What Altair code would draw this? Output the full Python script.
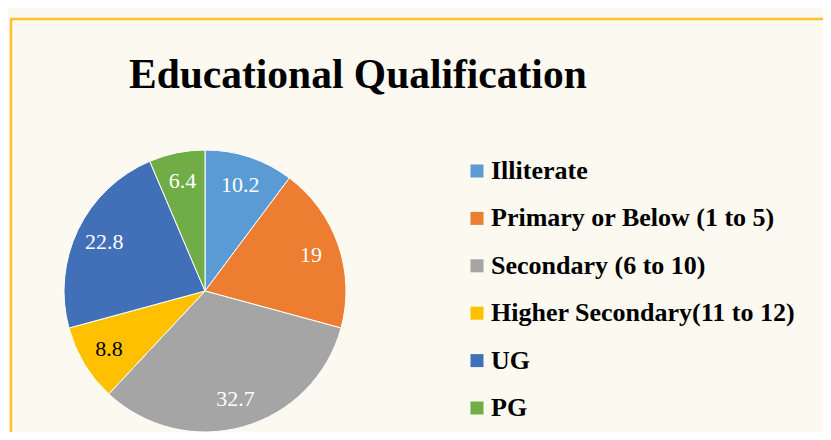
import altair as alt
import pandas as pd

categories = ["Illiterate", "Primary or Below (1 to 5)", "Secondary (6 to 10)",
              "Higher Secondary(11 to 12)", "UG", "PG"]
values = [10.2, 19, 32.7, 8.8, 22.8, 6.4]
labels = ["10.2", "19", "32.7", "8.8", "22.8", "6.4"]
colors = ["#5B9BD5", "#ED7D31", "#A5A5A5", "#FFC000", "#4270B8", "#70AD47"]
title_text = "Educational Qualification"

df = pd.DataFrame({"category": categories, "value": values, "label": labels,
                   "idx": list(range(len(categories)))})

W, H = 815, 424
CX, CY, R = 197, 283, 141
SERIF = "Liberation Serif"

base = alt.Chart(df).encode(
    theta=alt.Theta("value:Q", stack=True),
    order=alt.Order("idx:O"),
)

arcs = base.mark_arc(stroke="white", strokeWidth=1).encode(
    x=alt.value(CX), y=alt.value(CY), radius=alt.value(R),
    color=alt.Color("category:N",
                    scale=alt.Scale(domain=categories, range=colors),
                    sort=categories,
                    legend=alt.Legend(title=None, orient="none",
                                      legendX=456, legendY=150,
                                      symbolType="square", symbolSize=169,
                                      symbolStrokeWidth=0,
                                      labelFont=SERIF, labelFontWeight="bold",
                                      labelFontSize=26, labelColor="black",
                                      labelOffset=1, rowPadding=21.4,
                                      padding=0, labelLimit=400)),
)

texts = base.mark_text(font=SERIF, fontSize=22, radius=112).encode(
    x=alt.value(CX), y=alt.value(CY),
    text="label:N",
    color=alt.condition(alt.datum.category == "Higher Secondary(11 to 12)",
                        alt.value("black"), alt.value("white")),
)

title = alt.Chart(alt.Data(values=[{}])).mark_text(
    text=title_text, font=SERIF, fontWeight="bold", fontSize=41.5,
    align="left", baseline="alphabetic", color="black",
).encode(x=alt.value(121), y=alt.value(80))

border_col = "#FFC12A"
top_rule = alt.Chart(alt.Data(values=[{}])).mark_rule(
    color=border_col, strokeWidth=2.5).encode(
    x=alt.value(2), x2=alt.value(W + 10), y=alt.value(11))
left_rule = alt.Chart(alt.Data(values=[{}])).mark_rule(
    color=border_col, strokeWidth=2.5).encode(
    x=alt.value(3), y=alt.value(10), y2=alt.value(H + 10))

chart = alt.layer(top_rule, left_rule, arcs, texts, title).properties(
    width=W, height=H, padding=0, autosize=alt.AutoSizeParams(type="none"),
    background="#FBF9F0",
).configure_view(stroke=None)

chart.save("out.html", embed_options={"renderer": "svg", "actions": False})
